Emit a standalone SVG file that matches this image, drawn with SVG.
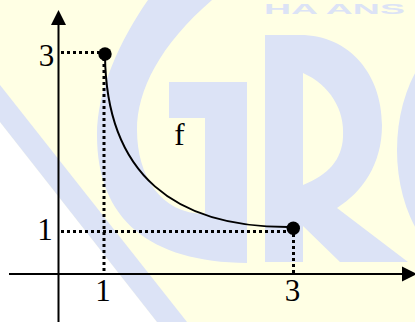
<svg xmlns="http://www.w3.org/2000/svg" width="415" height="322" viewBox="0 0 415 322">
  <style>
    .wm { fill: #DCE3F6; stroke: none; }
    .axis { stroke: #000; stroke-width: 2; fill: none; }
    .dot-line { stroke: #000; stroke-width: 3; stroke-dasharray: 3 3; fill: none; }
    .curve { stroke: #000; stroke-width: 2; fill: none; }
    .pt { fill: #000; }
    .lbl { font-family: "Liberation Serif", "Times New Roman", serif; font-size: 31px; fill: #000; text-anchor: middle; }
    .wmtext { font-family: "Liberation Sans", Arial, sans-serif; font-weight: bold; font-size: 15px; fill: #DCE3F6; }
  </style>

  <g id="background">
    <rect x="0" y="0" width="415" height="322" fill="#FFFFE4"/>
    <polygon points="0,122 157,322 0,322" fill="#FFFFFF"/>
    <polygon class="wm" points="0,85 187,322 157,322 0,122"/>
    <path class="wm" d="M148,0 C120,40 97,90 97,135 C97,220 150,262 247,263 L247,82 L169,82 L169,118 L205,118 L205,214 C160,214 137,175 137,130 C137,90 160,45 212,0 Z"/>
    <path class="wm" fill-rule="evenodd" d="M265,35 H300 C350,35 382,75 382,125 C382,165 362,192 337,208 L408,262 H340 L303,226 V262 H265 Z M303,73 C330,85 345,110 343,137 C342,160 328,175 303,185 Z"/>
    <ellipse class="wm" cx="475" cy="150" rx="78" ry="120"/>
    <text class="wmtext" transform="translate(264,14) scale(2.5,1)" x="0" y="0">HA ANS</text>
  </g>

  <g id="connectors">
    <line class="axis" x1="58.5" y1="322" x2="58.5" y2="24"/>
    <polygon class="pt" points="58.5,10 51,25 66,25"/>
    <line class="axis" x1="9" y1="274" x2="403" y2="274"/>
    <polygon class="pt" points="417,274 402,266.5 402,281.5"/>
    <line class="dot-line" x1="61" y1="52.5" x2="100" y2="52.5"/>
    <line class="dot-line" x1="104" y1="58" x2="104" y2="274"/>
    <line class="dot-line" x1="61" y1="231.5" x2="290" y2="231.5"/>
    <line class="dot-line" x1="293.5" y1="234" x2="293.5" y2="274"/>
    <path id="curve-f" class="curve" d="M105,55 C106,175 175,228 291,227"/>
  </g>

  <g id="point-1-3"><circle class="pt" cx="105" cy="54" r="6.7"/></g>
  <g id="point-3-1"><circle class="pt" cx="293.3" cy="228.3" r="6.7"/></g>

  <g id="labels">
    <text class="lbl" x="46.5" y="66">3</text>
    <text class="lbl" x="45" y="240">1</text>
    <text class="lbl" x="103" y="301">1</text>
    <text class="lbl" x="292.5" y="301">3</text>
    <text class="lbl" x="179.5" y="145">f</text>
  </g>
</svg>
